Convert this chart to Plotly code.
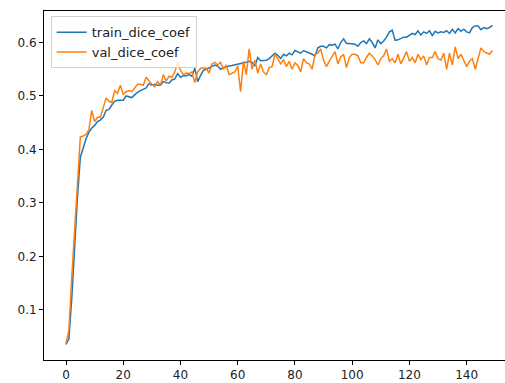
import plotly.graph_objects as go

epochs = list(range(150))

train_dice_coef = [
    0.035, 0.045, 0.12, 0.22, 0.31, 0.385, 0.405, 0.42, 0.432, 0.44,
    0.445, 0.452, 0.455, 0.46, 0.473, 0.475, 0.483, 0.49, 0.492, 0.492,
    0.492, 0.50, 0.498, 0.497, 0.502, 0.507, 0.51, 0.513, 0.515, 0.523,
    0.52, 0.522, 0.52, 0.52, 0.527, 0.525, 0.524, 0.53, 0.532, 0.542,
    0.535, 0.538, 0.538, 0.54, 0.537, 0.552, 0.527, 0.538, 0.548, 0.55,
    0.553, 0.556, 0.558, 0.556, 0.55, 0.553, 0.555, 0.556, 0.557, 0.558,
    0.56, 0.56, 0.561, 0.563, 0.565, 0.563, 0.556, 0.572, 0.566, 0.567,
    0.567, 0.57, 0.575, 0.58, 0.576, 0.57, 0.578, 0.575, 0.58, 0.577,
    0.585, 0.583, 0.58, 0.585, 0.583, 0.58, 0.578, 0.575, 0.59, 0.593,
    0.593, 0.59, 0.596, 0.595, 0.597, 0.588, 0.60, 0.607, 0.598, 0.598,
    0.597, 0.597, 0.593, 0.60, 0.603, 0.598, 0.607, 0.60, 0.59, 0.605,
    0.598, 0.603, 0.61, 0.62, 0.623, 0.604, 0.605, 0.607, 0.61, 0.61,
    0.614, 0.617, 0.615, 0.622, 0.614, 0.62, 0.617, 0.622, 0.613, 0.621,
    0.618, 0.62, 0.619, 0.622, 0.617, 0.625, 0.618, 0.626, 0.621, 0.625,
    0.62, 0.618, 0.628, 0.631, 0.631, 0.624, 0.628, 0.626, 0.628, 0.632,
]

val_dice_coef = [
    0.037, 0.062, 0.16, 0.255, 0.34, 0.423, 0.425, 0.428, 0.437, 0.473,
    0.452, 0.46, 0.46, 0.48, 0.496, 0.49, 0.488, 0.51, 0.505, 0.52,
    0.503, 0.508, 0.51, 0.508, 0.516, 0.522, 0.522, 0.52, 0.535, 0.528,
    0.522, 0.517, 0.527, 0.52, 0.54, 0.528, 0.537, 0.535, 0.545, 0.562,
    0.548, 0.54, 0.543, 0.542, 0.545, 0.525, 0.545, 0.552, 0.553, 0.552,
    0.543, 0.56, 0.563, 0.558, 0.563, 0.55, 0.558, 0.54, 0.542, 0.545,
    0.556, 0.508, 0.565, 0.54, 0.588, 0.55, 0.567, 0.543, 0.56, 0.545,
    0.54, 0.553, 0.555, 0.578, 0.57, 0.56, 0.568, 0.555, 0.565, 0.55,
    0.562, 0.557, 0.545, 0.57, 0.562, 0.56, 0.55, 0.578, 0.58, 0.588,
    0.567, 0.555, 0.565, 0.575, 0.583, 0.56, 0.573, 0.578, 0.553, 0.572,
    0.578, 0.578, 0.575, 0.562, 0.562, 0.572, 0.58, 0.575, 0.568, 0.558,
    0.57, 0.575, 0.588, 0.565, 0.57, 0.562, 0.578, 0.56, 0.573, 0.583,
    0.565, 0.572, 0.562, 0.578, 0.568, 0.575, 0.558, 0.572, 0.572, 0.583,
    0.57, 0.567, 0.58, 0.55, 0.58, 0.558, 0.592, 0.57, 0.578, 0.568,
    0.555, 0.565, 0.57, 0.55, 0.57, 0.59, 0.583, 0.58, 0.578, 0.585,
]

x_ticks = [0, 20, 40, 60, 80, 100, 120, 140]
y_ticks = [0.1, 0.2, 0.3, 0.4, 0.5, 0.6]

fig = go.Figure()
fig.add_trace(go.Scatter(x=epochs, y=train_dice_coef, mode="lines",
                         name="train_dice_coef",
                         line=dict(color="#1f77b4", width=1.5)))
fig.add_trace(go.Scatter(x=epochs, y=val_dice_coef, mode="lines",
                         name="val_dice_coef",
                         line=dict(color="#ff7f0e", width=1.5)))

axis_font = dict(family="DejaVu Sans", size=12, color="#222222")

fig.update_layout(
    width=505, height=383,
    margin=dict(l=44, r=0, t=11, b=23),
    paper_bgcolor="white", plot_bgcolor="white",
    showlegend=True,
    legend=dict(
        x=0.0145, y=0.985, xanchor="left", yanchor="top",
        bgcolor="rgba(255,255,255,0.8)", bordercolor="#d0d0d0", borderwidth=1,
        font=dict(family="DejaVu Sans", size=13, color="#222222"),
        tracegroupgap=0,
    ),
    xaxis=dict(
        range=[-7.69, 153.4], tickvals=x_ticks, ticktext=[str(v) for v in x_ticks],
        showgrid=False, zeroline=False, showline=True, linecolor="black", linewidth=1,
        mirror=True, ticks="outside", ticklen=4, tickcolor="black", tickwidth=1,
        tickfont=axis_font,
    ),
    yaxis=dict(
        range=[0.006, 0.659], tickvals=y_ticks, ticktext=[f"{v:.1f}" for v in y_ticks],
        showgrid=False, zeroline=False, showline=True, linecolor="black", linewidth=1,
        ticks="outside", ticklen=4, tickcolor="black", tickwidth=1,
        tickfont=axis_font,
    ),
)

fig.write_html("out.html")
